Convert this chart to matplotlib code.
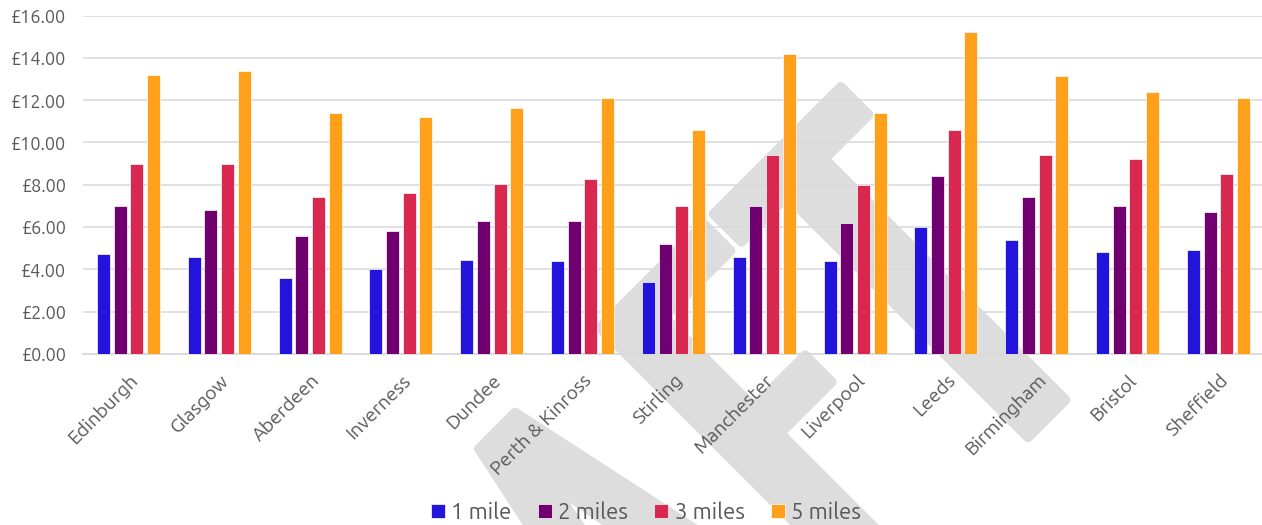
import matplotlib
matplotlib.use("Agg")
import matplotlib.pyplot as plt
from matplotlib.lines import Line2D
from matplotlib import font_manager
import matplotlib.patheffects as pe
import numpy as np

cities = ["Edinburgh", "Glasgow", "Aberdeen", "Inverness", "Dundee", "Perth & Kinross",
          "Stirling", "Manchester", "Liverpool", "Leeds", "Birmingham", "Bristol", "Sheffield"]
series_names = ["1 mile", "2 miles", "3 miles", "5 miles"]
mile1 = [4.75, 4.6, 3.6, 4.0, 4.45, 4.4, 3.4, 4.6, 4.4, 6.0, 5.4, 4.8, 4.9]
mile2 = [7.0, 6.8, 5.6, 5.8, 6.3, 6.3, 5.2, 7.0, 6.2, 8.4, 7.4, 7.0, 6.7]
mile3 = [9.0, 9.0, 7.4, 7.6, 8.05, 8.25, 7.0, 9.4, 8.0, 10.6, 9.4, 9.2, 8.5]
mile5 = [13.2, 13.4, 11.4, 11.2, 11.65, 12.1, 10.6, 14.2, 11.4, 15.2, 13.15, 12.4, 12.1]
yticks = [0, 2, 4, 6, 8, 10, 12, 14, 16]
colors = ["#2314DC", "#700070", "#D82850", "#FFA01A"]

avail = {f.name for f in font_manager.fontManager.ttflist}
main_font = [f for f in ["Ubuntu", "Open Sans"] if f in avail] + ["DejaVu Sans"]
wm_font = [f for f in ["Oswald", "DejaVu Sans"] if f in avail][0]
plt.rcParams['font.family'] = main_font

W, H = 1262, 525
fig = plt.figure(figsize=(W / 100, H / 100), dpi=100)

# watermark
wm = fig.text(846 / W, 1 - 82 / H, "DRAFT", fontsize=338, color="#DDDDDD",
              rotation=45, rotation_mode='anchor', ha='right', va='top',
              family=wm_font, fontweight=300, zorder=-5)
wm.set_path_effects([pe.withStroke(linewidth=7, foreground="#DDDDDD",
                                   joinstyle='round', capstyle='round')])

ax = fig.add_axes([83 / W, 1 - 354 / H, (1262 - 83) / W, (354 - 15.5) / H])
ax.patch.set_alpha(0)

x = np.arange(len(cities))
pitch = 0.183
width = 0.143
for i, (vals, c) in enumerate(zip([mile1, mile2, mile3, mile5], colors)):
    ax.bar(x + (i - 1.5) * pitch, vals, width, color=c, edgecolor='white',
           linewidth=0.5, label=series_names[i], zorder=3)

ax.set_ylim(0, 16)
ax.set_xlim(-0.5, 12.48)
ax.set_yticks(yticks)
ax.set_yticklabels([f"£{v:.2f}" for v in yticks])
ax.yaxis.grid(True, color="#D9D9D9", linewidth=1.1, zorder=0)
ax.set_axisbelow(True)
for s in ["top", "right", "left"]:
    ax.spines[s].set_visible(False)
ax.spines["bottom"].set_color("#D9D9D9")
ax.spines["bottom"].set_linewidth(1.3)
ax.tick_params(axis='both', length=0, labelcolor="#595959")
ax.tick_params(axis='y', pad=12, labelsize=13)
ax.tick_params(axis='x', pad=12, labelsize=14)
ax.set_xticks(x)
ax.set_xticklabels(cities, rotation=45, ha='right', rotation_mode='anchor')

handles = [Line2D([0], [0], marker='s', linestyle='none', markersize=10.5,
                  markerfacecolor=c, markeredgecolor='white', markeredgewidth=0.5)
           for c in colors]
fig.legend(handles, series_names, loc='center', bbox_to_anchor=(644 / W, 1 - 512 / H),
           ncol=4, frameon=False, fontsize=16, labelcolor="#595959",
           handletextpad=0.1, columnspacing=1.0, handlelength=1.0,
           borderaxespad=0, borderpad=0)

fig.savefig("out.png", dpi=100)
